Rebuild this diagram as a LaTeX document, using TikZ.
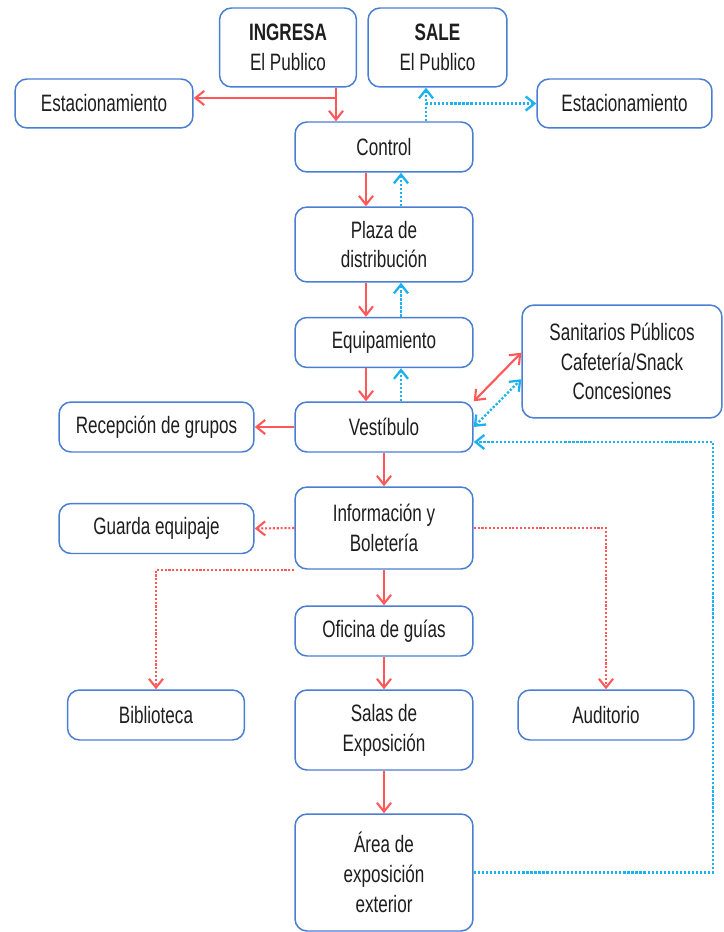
\documentclass[tikz,border=0pt]{standalone}
\usepackage{fontspec}
\setmainfont[FakeStretch=0.72]{Liberation Sans}
\usetikzlibrary{arrows.meta}
\definecolor{boxblue}{RGB}{74,126,210}
\definecolor{flowred}{RGB}{255,88,88}
\definecolor{flowblue}{RGB}{28,178,240}
\definecolor{txtgray}{RGB}{30,30,30}
\begin{document}
\begin{tikzpicture}[x=0.02cm,y=-0.02cm,
  box/.style={draw=boxblue,line width=0.85pt,rounded corners=0.24cm,fill=white,
    align=center,inner sep=0pt,text=txtgray,font=\fontsize{13.5}{17}\selectfont},
  redarrow/.style={flowred,line width=1.2pt,-{Straight Barb[length=5pt,width=8pt]}},
  reddots/.style={redarrow,dash pattern=on 1.2pt off 1pt},
  bluedots/.style={flowblue,line width=1.3pt,dash pattern=on 1.3pt off 1pt,-{Straight Barb[length=5pt,width=8pt]}}]
\useasboundingbox (0,0) rectangle (723,932);
\node[box,minimum width=2.74cm,minimum height=1.58cm] (ingresa) at (288,47.5){\textbf{INGRESA}\\El Publico};
\node[box,minimum width=2.78cm,minimum height=1.58cm] (sale) at (437.5,47.5){\textbf{SALE}\\El Publico};
\node[box,minimum width=3.56cm,minimum height=0.98cm] (estL) at (104,103.5){Estacionamiento};
\node[box,minimum width=3.5cm,minimum height=0.98cm] (estR) at (624.5,103.5){Estacionamiento};
\node[box,minimum width=3.56cm,minimum height=1cm] (control) at (384,147){Control};
\node[box,minimum width=3.56cm,minimum height=1.5cm] (plaza) at (384,244.5){Plaza de\\distribución};
\node[box,minimum width=3.56cm,minimum height=1cm] (equip) at (384,342.5){Equipamiento};
\node[box,minimum width=3.56cm,minimum height=1cm] (vest) at (384,427){Vestíbulo};
\node[box,minimum width=4cm,minimum height=2.26cm] (sanit) at (622,361.5){Sanitarios Públicos\\Cafetería/Snack\\Concesiones};
\node[box,minimum width=3.9cm,minimum height=1cm] (recep) at (156.5,427){Recepción de grupos};
\node[box,minimum width=3.9cm,minimum height=1cm] (guarda) at (156.5,528.5){Guarda equipaje};
\node[box,minimum width=3.56cm,minimum height=1.64cm] (info) at (384,528){Información y\\Boletería};
\node[box,minimum width=3.56cm,minimum height=1cm] (oficina) at (384,631){Oficina de guías};
\node[box,minimum width=3.54cm,minimum height=1cm] (biblio) at (156,715){Biblioteca};
\node[box,minimum width=3.56cm,minimum height=1.6cm] (salas) at (384,730){Salas de\\Exposición};
\node[box,minimum width=3.52cm,minimum height=1cm] (audit) at (606,715){Auditorio};
\node[box,minimum width=3.56cm,minimum height=2.34cm] (area) at (384,872.5){Área de\\exposición\\exterior};
% entrada y salida
\coordinate (splitIn) at (336,98);
\coordinate (splitOut) at (426,103.5);
\draw[redarrow] (ingresa.south -| splitIn) -- (control.north -| splitIn);
\draw[redarrow] (splitIn) -- (estL.east |- splitIn);
\draw[bluedots] (control.north -| splitOut) -- (sale.south -| splitOut);
\draw[bluedots] (splitOut) -- (estR.west |- splitOut);
\foreach \a/\b in {control/plaza,plaza/equip,equip/vest}{
  \draw[redarrow] (\a.south -| 366,0) -- (\b.north -| 366,0);
  \draw[bluedots] (\b.north -| 401,0) -- (\a.south -| 401,0);
}
\draw[redarrow,{Straight Barb[length=5pt,width=8pt]}-{Straight Barb[length=5pt,width=8pt]}] (vest.north east) -- (sanit.175);
\draw[bluedots,{Straight Barb[length=5pt,width=8pt]}-{Straight Barb[length=5pt,width=8pt]}] (vest.east) -- (sanit.190);
\draw[redarrow] (vest.west) -- (recep.east);
\draw[redarrow] (vest.south) -- (info.north);
\draw[reddots] (info.west) -- (guarda.east);
\draw[reddots] (info.south west) -| (biblio.north);
\draw[reddots] (info.east) -| (audit.north);
\draw[redarrow] (info.south) -- (oficina.north);
\draw[redarrow] (oficina.south) -- (salas.north);
\draw[redarrow] (salas.south) -- (area.north);
% retorno
\coordinate (loopBack) at (713,442);
\draw[bluedots] (area.east) -| (loopBack) -- (vest.east |- loopBack);
\end{tikzpicture}
\end{document}
